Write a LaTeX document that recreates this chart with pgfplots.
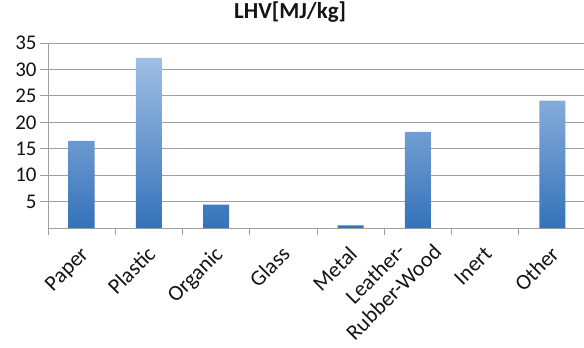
\documentclass[border=0pt]{standalone}
\usepackage{pgfplots}
\pgfplotsset{compat=1.18}
\usepackage{fontspec}
\setmainfont{Carlito}
\definecolor{bartop}{RGB}{160,191,228}
\definecolor{barbot}{RGB}{52,114,186}
\definecolor{gridc}{RGB}{160,160,160}
\definecolor{txt}{RGB}{20,20,20}
\begin{document}
\begin{tikzpicture}[x=1bp,y=1bp]
\useasboundingbox (0,0) rectangle (584,347);
\clip (0,0) rectangle (584,347);
\begin{axis}[
  at={(48bp,119bp)}, anchor=south west,
  scale only axis, width=538bp, height=185bp,
  xmin=-0.5, xmax=7.5, ymin=0, ymax=35,
  axis x line*=bottom, axis y line*=left,
  axis line style={gridc, line width=0.8pt},
  ytick={5,10,...,35},
  ymajorgrids, grid style={gridc, line width=0.8pt},
  tick align=outside,
  major tick length=8bp,
  minor tick length=7bp,
  major tick style={gridc, line width=0.8pt},
  minor tick style={gridc, line width=0.8pt},
  xtick={0,...,7},
  xticklabels={Paper,Plastic,Organic,Glass,Metal,{},Inert,Other},
  major x tick style={draw=none},
  minor xtick={-0.5,0.5,...,6.5},
  extra x ticks={5},
  extra x tick labels={{Leather-\\Rubber-Wood}},
  extra x tick style={major x tick style={draw=none}, grid=none,
    xticklabel style={anchor=south east, xshift=13.5bp, yshift=-11bp}},
  /pgf/number format/assume math mode=true,
  yticklabel style={font=\fontsize{21}{22}\selectfont, text=txt},
  xticklabel style={font=\fontsize{22}{26}\selectfont, text=txt, inner sep=0pt, xshift=8bp, yshift=-19.5bp, rotate=45, anchor=base east, align=center},
  title={\bfseries LHV[MJ/kg]},
  title style={at={(0.450,1)}, anchor=base, yshift=19bp, font=\fontsize{23}{24}\selectfont, text=txt},
  clip=false,
]
\addplot[ybar, bar width=26bp, draw=none, top color=bartop, bottom color=barbot]
  coordinates {(0,16.5) (1,32.2) (2,4.4) (4,0.5) (5,18.2) (7,24.1)};
\end{axis}
\end{tikzpicture}
\end{document}
